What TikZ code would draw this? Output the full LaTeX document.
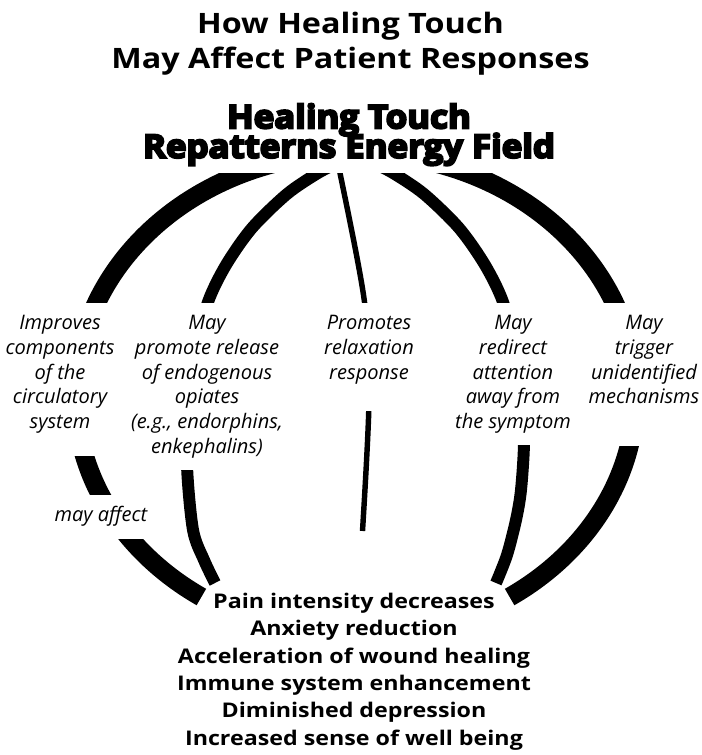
\documentclass[tikz,border=0pt]{standalone}
\usepackage{fontspec}
\setmainfont{Open Sans}
\newfontfamily\widefont{Open Sans}[FakeStretch=1.15]
\IfFontExistsTF{Open Sans ExtraBold}
	{\newfontfamily\heavyfont{Open Sans ExtraBold}[FakeBold=3, FakeStretch=1.05]\newcommand\heavy{\heavyfont}}
	{\newfontfamily\heavyfont{Open Sans}[FakeStretch=1.07, BoldFeatures={FakeBold=6.5}]\newcommand\heavy{\heavyfont\bfseries}}
\newcommand\maskdepth[1]{\rule[-#1]{0pt}{0pt}}

\tikzset{
	meridian/.style={line width=#1, line cap=butt},
	mask/.style={fill=white, inner xsep=3pt, inner ysep=6.8pt, align=center},
	effect/.style={mask, anchor=north, font=\itshape\fontsize{11.4}{14.1}\selectfont}
}

\begin{document}
\begin{tikzpicture}[x=0.02cm, y=0.02cm]
	
	\useasboundingbox (0,0) rectangle (701,755);
	
	\coordinate (globe) at (355.5,360);
	
	\coordinate (m1-top) at ([shift={(100:280 and 242)}]globe);
	
	\coordinate (m5-top) at ([shift={(80:280 and 242)}]globe);
	
	\coordinate (m2-top) at (338,592);
	
	\coordinate (m2-end) at (215,172);
	
	\coordinate (m3-top) at (336,595);
	
	\coordinate (m3-end) at (362.5,224);
	
	\coordinate (m4-top) at (373,592);
	
	\coordinate (m4-end) at (496,172);
	
	\draw[meridian=10.8pt] (m1-top) arc[start angle=100, end angle=236.6, x radius=280, y radius=242];
	
	\draw[meridian=10.8pt] (m5-top) arc[start angle=80, end angle=-56.6, x radius=280, y radius=242];
	
	\draw[meridian=6.8pt] plot[smooth] coordinates {(m2-top) (318,582) (287,561) (252,527) (226,490) (208,453) (196,405) (189,355) (187,290) (193,225) (204,195) (m2-end)};
	
	\draw[meridian=3.1pt] plot[smooth] coordinates {(m3-top) (340,582) (364.5,453) (369,355) (m3-end)};
	
	\draw[meridian=6.8pt] plot[smooth] coordinates {(m4-top) (393,582) (424,561) (459,527) (485,490) (503,453) (515,405) (522,355) (524,312) (521,265) (516,235) (507,200) (m4-end)};
	
	\node[align=center, inner sep=0pt, anchor=north, font=\widefont\bfseries\fontsize{16}{20}\selectfont] (title) at (350.5,743) {How Healing Touch\\May Affect Patient Responses};
	
	\node[mask, anchor=south, inner ysep=4pt, font={\heavy\fontsize{18.5}{16.8}\selectfont\lineskiplimit=-\maxdimen}] (field) at (349,582) {Healing Touch\\Repatterns Energy Field};
	
	\node[effect] (e1) at (60,452) {Improves\\components\\of the\\circulatory\\system\maskdepth{8.8pt}};
	
	\node[effect] (e2) at (207,452) {May\\promote release\\of endogenous\\opiates\\(e.g., endorphins,\\enkephalins)};
	
	\node[effect] (e3) at (369,452) {Promotes\\relaxation\\response\maskdepth{11.5pt}};
	
	\node[effect] (e4) at (513,452) {May\\redirect\\attention\\away from\\the symptom};
	
	\node[effect] (e5) at (644,452) {May\\trigger\\unidentified\\mechanisms\maskdepth{17.2pt}};
	
	\node[mask, anchor=base, font=\itshape\fontsize{11.4}{14.1}\selectfont] (may) at (101,233) {may affect};
	
	\node[align=center, inner sep=0pt, anchor=north, font=\widefont\bfseries\fontsize{11.5}{15.6}\selectfont] (out) at (354,162.4) {Pain intensity decreases\\Anxiety reduction\\Acceleration of wound healing\\Immune system enhancement\\Diminished depression\\Increased sense of well being};
	
\end{tikzpicture}
\end{document}
